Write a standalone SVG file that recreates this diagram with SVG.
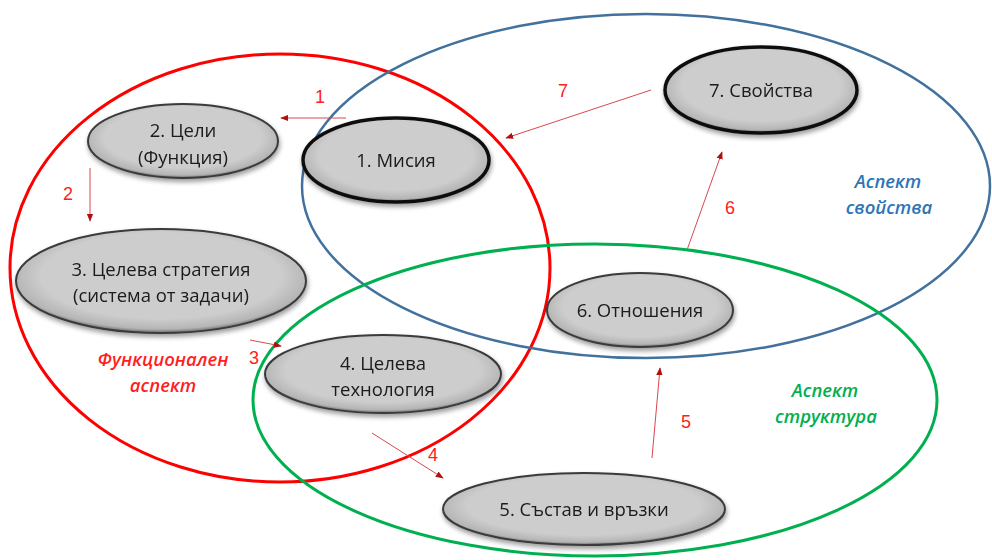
<svg xmlns="http://www.w3.org/2000/svg" width="992" height="560" viewBox="0 0 992 560">
<style>
.nt{font-family:"Open Sans","Liberation Sans",sans-serif;font-size:18.5px;fill:#1a1a1a;text-anchor:middle}
.num{font-family:"Liberation Sans",sans-serif;font-size:18px;fill:#ff2020;text-anchor:middle}
.asp{font-family:"Open Sans","Liberation Sans",sans-serif;font-size:18.5px;font-style:italic;font-weight:600;text-anchor:middle}
.node{fill:url(#g);stroke:#3a3a3a;stroke-width:2}
.thick{stroke:#111;stroke-width:3.5}
.con{stroke:#d9484f;stroke-width:1;fill:none;marker-end:url(#ah)}
</style>
<defs>
<radialGradient id="g" cx="0.5" cy="0.45" r="0.55">
<stop offset="0.75" stop-color="#cdcdcd"/>
<stop offset="0.93" stop-color="#b5b5b5"/>
<stop offset="1" stop-color="#6a6a6a"/>
</radialGradient>
<filter id="sh" x="-10%" y="-10%" width="125%" height="135%">
<feGaussianBlur in="SourceAlpha" stdDeviation="2.5"/>
<feOffset dx="1" dy="3" result="b"/>
<feComponentTransfer><feFuncA type="linear" slope="0.4"/></feComponentTransfer>
<feMerge><feMergeNode/><feMergeNode in="SourceGraphic"/></feMerge>
</filter>
<marker id="ah" viewBox="0 0 10 10" refX="9" refY="5" markerWidth="8" markerHeight="8" orient="auto" markerUnits="userSpaceOnUse">
<path d="M0,1 L10,5 L0,9 z" fill="#b01010"/>
</marker>
</defs>
<rect width="992" height="560" fill="#fff"/>
<g id="aspects" fill="none">
<ellipse cx="280" cy="268" rx="270" ry="214" stroke="#ff0000" stroke-width="3"/>
<ellipse cx="646" cy="186" rx="344" ry="172" stroke="#41719c" stroke-width="2.5"/>
<ellipse cx="595" cy="400" rx="342" ry="156" stroke="#00b050" stroke-width="3"/>
</g>
<g id="n2" filter="url(#sh)"><ellipse class="node" cx="183" cy="141" rx="95" ry="37"/><text class="nt" x="183" y="137">2. Цели</text><text class="nt" x="183" y="164">(Функция)</text></g>
<g id="n1" filter="url(#sh)"><ellipse class="node thick" cx="396" cy="160" rx="93" ry="42"/><text class="nt" x="396" y="167">1. Мисия</text></g>
<g id="n3" filter="url(#sh)"><ellipse class="node" cx="161" cy="281" rx="145" ry="52"/><text class="nt" x="161" y="276">3. Целева стратегия</text><text class="nt" x="161" y="302">(система от задачи)</text></g>
<g id="n4" filter="url(#sh)"><ellipse class="node" cx="383" cy="374" rx="118" ry="39"/><text class="nt" x="383" y="370">4. Целева</text><text class="nt" x="383" y="396">технология</text></g>
<g id="n5" filter="url(#sh)"><ellipse class="node" cx="584" cy="509" rx="141" ry="36"/><text class="nt" x="584" y="516">5. Състав и връзки</text></g>
<g id="n6" filter="url(#sh)"><ellipse class="node" cx="640" cy="310" rx="93" ry="37"/><text class="nt" x="640" y="317">6. Отношения</text></g>
<g id="n7" filter="url(#sh)"><ellipse class="node thick" cx="761" cy="90" rx="96" ry="43"/><text class="nt" x="761" y="97">7. Свойства</text></g>
<g id="connectors">
<line class="con" x1="346" y1="118" x2="281" y2="118"/>
<line class="con" x1="90" y1="168" x2="90" y2="221"/>
<line class="con" x1="250" y1="340" x2="281" y2="346"/>
<line class="con" x1="372" y1="433" x2="443" y2="478"/>
<line class="con" x1="652" y1="458" x2="660" y2="368"/>
<line class="con" x1="687" y1="250" x2="722" y2="152"/>
<line class="con" x1="651" y1="90" x2="506" y2="138"/>
<text class="num" x="320" y="103">1</text>
<text class="num" x="68" y="200">2</text>
<text class="num" x="254" y="364">3</text>
<text class="num" x="433" y="461">4</text>
<text class="num" x="686" y="428">5</text>
<text class="num" x="730" y="214">6</text>
<text class="num" x="563" y="97">7</text>
</g>
<g id="labels">
<text class="asp" fill="#ff1f1f" x="163" y="366">Функционален</text>
<text class="asp" fill="#ff1f1f" x="163" y="392">аспект</text>
<text class="asp" fill="#2e75b6" x="888" y="188">Аспект</text>
<text class="asp" fill="#2e75b6" x="889" y="214">свойства</text>
<text class="asp" fill="#00b050" x="825" y="397">Аспект</text>
<text class="asp" fill="#00b050" x="826" y="423">структура</text>
</g>
</svg>
